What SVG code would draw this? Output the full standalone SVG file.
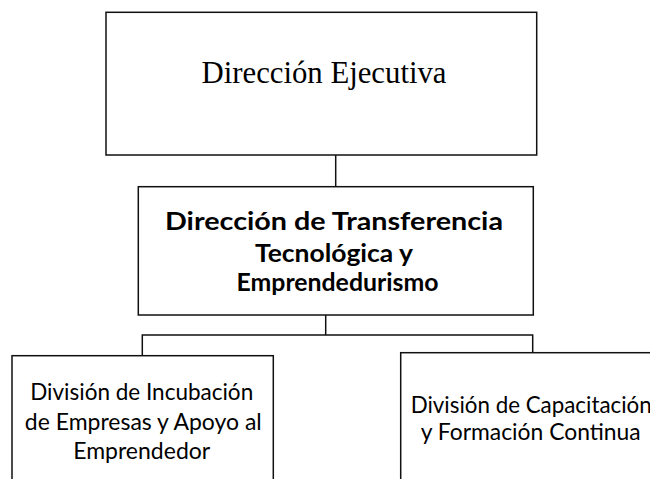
<svg xmlns="http://www.w3.org/2000/svg" width="650" height="479" viewBox="0 0 650 479">
<style>
.box{fill:#fff;stroke:#111;stroke-width:1.5}
.con{fill:none;stroke:#111;stroke-width:1.5}
.serif{font-family:"Liberation Serif","Times New Roman",serif;font-size:31px;fill:#000}
.bold{font-family:Lato,"Open Sans",sans-serif;font-weight:bold;font-size:25px;fill:#000}
.reg{font-family:Lato,"Open Sans",sans-serif;font-size:23.5px;fill:#000}
</style>
<rect width="650" height="479" fill="#fff"/>
<g id="connectors">
<line class="con" x1="335.7" y1="155" x2="335.7" y2="186.7"/>
<polyline class="con" points="142.3,355.7 142.3,335 532.7,335 532.7,352.7"/>
<line class="con" x1="325.7" y1="315" x2="325.7" y2="335"/>
</g>
<g id="direccion-ejecutiva">
<rect class="box" x="106" y="12.3" width="430.7" height="142.7"/>
<text class="serif" x="324" y="83" text-anchor="middle" textLength="245" lengthAdjust="spacingAndGlyphs">Dirección Ejecutiva</text>
</g>
<g id="direccion-transferencia">
<rect class="box" x="138.3" y="186.7" width="395" height="128.3"/>
<text class="bold" x="334" y="230" text-anchor="middle" textLength="338" lengthAdjust="spacingAndGlyphs">Dirección de Transferencia</text>
<text class="bold" x="334" y="261.7" text-anchor="middle" textLength="158" lengthAdjust="spacingAndGlyphs">Tecnológica y</text>
<text class="bold" x="337.5" y="291" text-anchor="middle" textLength="202" lengthAdjust="spacingAndGlyphs">Emprendedurismo</text>
</g>
<g id="division-incubacion">
<rect class="box" x="12" y="355.7" width="261.3" height="140"/>
<text class="reg" x="141.7" y="400" text-anchor="middle" textLength="223" lengthAdjust="spacingAndGlyphs">División de Incubación</text>
<text class="reg" x="143.3" y="430" text-anchor="middle" textLength="237" lengthAdjust="spacingAndGlyphs">de Empresas y Apoyo al</text>
<text class="reg" x="141.7" y="459" text-anchor="middle" textLength="137" lengthAdjust="spacingAndGlyphs">Emprendedor</text>
</g>
<g id="division-capacitacion">
<rect class="box" x="400.7" y="352.7" width="262" height="140"/>
<text class="reg" x="410.7" y="413.3" textLength="241" lengthAdjust="spacingAndGlyphs">División de Capacitación</text>
<text class="reg" x="530.7" y="440" text-anchor="middle" textLength="220" lengthAdjust="spacingAndGlyphs">y Formación Continua</text>
</g>
</svg>
